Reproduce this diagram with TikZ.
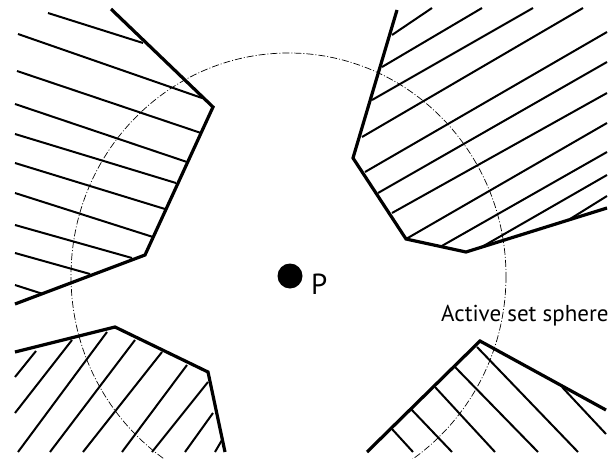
\documentclass[tikz,border=0pt]{standalone}
\usepackage{fontspec}
\setmainfont{PT Sans}

\begin{document}
\begin{tikzpicture}[
  x=1pt, y=-1pt,
  wall/.style={line width=3.2pt, line join=miter},
  hatch/.style={line width=2pt},
  sphere/.style={line width=0.7pt, dash pattern=on 7pt off 2pt on 1pt off 2pt},
]
\useasboundingbox (0,0) rectangle (616,458);

% upper left block
\foreach \xa/\ya/\xb/\yb in {48/13/143/43, 18/34/202/98, 17/71/201/133,
    15/104/187/162, 15/134/176/183, 15/163/165/209, 15/193/153/237,
    15/225/132/258, 15/253/90/274, 15/285/43/294}
  \draw[hatch] (\xa,\ya) -- (\xb,\yb);
\draw[wall] (111,9) -- (213,107) -- (145,255) -- (15,304);

% upper right block
\foreach \xa/\ya/\xb/\yb in {392/35/432/8, 382/67/482/8, 372/100/533/8,
    362/137/583/8, 365/172/607/32, 378/193/607/62, 392/213/607/93,
    406/239/607/123, 440/247/607/152, 480/248/607/175, 570/219/607/196}
  \draw[hatch] (\xa,\ya) -- (\xb,\yb);
\draw[wall] (397,10) -- (353,158) -- (406,239) -- (466,252) -- (607,208);

% lower left block
\foreach \xa/\ya/\xb/\yb in {15/377/36/351, 15/413/72/340, 18/452/107/332,
    50/452/135/340, 83/452/162/352, 122/452/187/365, 152/452/208/382,
    185/452/213/413, 215/452/222/440}
  \draw[hatch] (\xa,\ya) -- (\xb,\yb);
\draw[wall] (15,352) -- (115,327) -- (208,372) -- (225,452);

% lower right block
\foreach \xa/\ya/\xb/\yb in {392/429/413/452, 410/408/452/452,
    435/387/495/452, 455/367/538/452, 477/347/578/452, 562/387/606/434}
  \draw[hatch] (\xa,\ya) -- (\xb,\yb);
\draw[wall] (367,452) -- (480,341) -- (606,410);

% active set sphere around P
\draw[sphere] (288.5,276) ellipse [x radius=217.5, y radius=223];
\node[circle, fill, minimum size=25pt, inner sep=0pt] (p) at (290,276) {};
\node[anchor=base west, inner sep=0pt, font=\fontsize{29}{29}\selectfont]
  (plabel) at (311,294) {P};
\node[anchor=base west, inner sep=0pt, font=\fontsize{23}{23}\selectfont]
  (spherelabel) at (441,321) {Active set sphere};
\end{tikzpicture}
\end{document}
